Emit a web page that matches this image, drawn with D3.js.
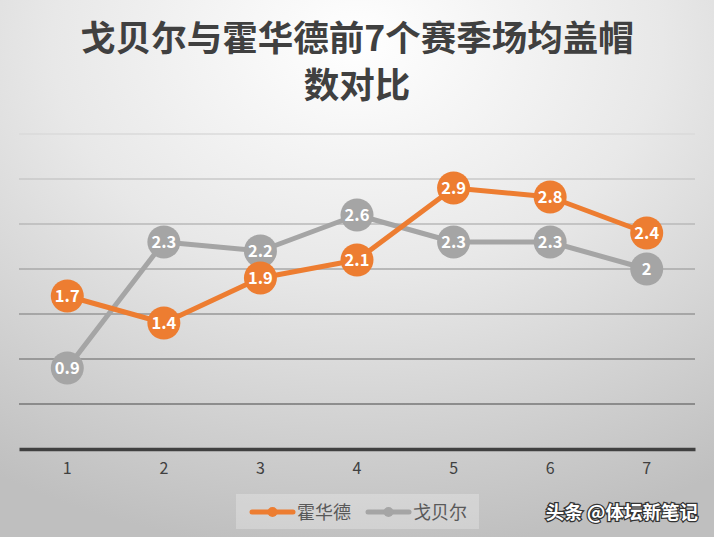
<!DOCTYPE html>
<html>
<head>
<meta charset="utf-8">
<script src="https://cdn.jsdelivr.net/npm/d3@7"></script>
<style>
  body { margin: 0; padding: 0; overflow: hidden; }
  svg { display: block; }
</style>
</head>
<body>
<script>
// data
var seasons = ["1", "2", "3", "4", "5", "6", "7"];
var howard = [1.7, 1.4, 1.9, 2.1, 2.9, 2.8, 2.4];
var gobert = [0.9, 2.3, 2.2, 2.6, 2.3, 2.3, 2.0];
var seriesNames = ["霍华德", "戈贝尔"];
var yTicks = [0, 0.5, 1, 1.5, 2, 2.5, 3, 3.5];
var titleLines = ["戈贝尔与霍华德前7个赛季场均盖帽", "数对比"];

var width = 714, height = 537;
var font = "'Noto Sans CJK SC', 'Noto Sans', sans-serif";
var colors = ["#ED7D31", "#A5A5A5"];

var svg = d3.select("body").append("svg")
    .attr("width", width).attr("height", height);

// background gradient
var defs = svg.append("defs");
var grad = defs.append("radialGradient").attr("id", "bg")
    .attr("cx", "50%").attr("cy", "8%").attr("r", "95%")
    .attr("fx", "50%").attr("fy", "8%");
grad.append("stop").attr("offset", "0%").attr("stop-color", "#ffffff");
grad.append("stop").attr("offset", "45%").attr("stop-color", "#e8e8e8");
grad.append("stop").attr("offset", "100%").attr("stop-color", "#bfbfbf");
svg.append("rect").attr("width", width).attr("height", height).attr("fill", "url(#bg)");

// title
svg.append("g").selectAll("text").data(titleLines).enter().append("text")
    .attr("x", width / 2)
    .attr("y", function(d, i) { return 51 + i * 47; })
    .attr("text-anchor", "middle")
    .attr("font-family", font).attr("font-weight", "bold")
    .attr("font-size", 35.5).attr("fill", "#404040")
    .text(function(d) { return d; });

// scales
var xScale = d3.scaleBand().domain(seasons).range([19, 695]);
var yScale = d3.scaleLinear().domain([0, 3.5]).range([449, 134]);
var gridColor = d3.scaleLinear().domain([0.5, 3.5]).range(["#767676", "#dadada"]);

// gridlines
svg.append("g").selectAll("line").data(yTicks.slice(1)).enter().append("line")
    .attr("x1", 19).attr("x2", 695)
    .attr("y1", function(d) { return yScale(d); })
    .attr("y2", function(d) { return yScale(d); })
    .attr("stroke", function(d) { return gridColor(d); })
    .attr("stroke-width", 1.5);

// x axis
var xAxis = svg.append("g").attr("transform", "translate(0," + yScale(0) + ")")
    .call(d3.axisBottom(xScale).tickSize(0).tickPadding(14));
xAxis.select(".domain").attr("stroke", "#404040").attr("stroke-width", 3.5);
xAxis.selectAll("text").attr("font-family", font).attr("font-size", 16).attr("fill", "#404040");

// lines and points
var cx = function(d, i) { return xScale(seasons[i]) + xScale.bandwidth() / 2; };
var line = d3.line()
    .x(function(d, i) { return cx(d, i); })
    .y(function(d) { return yScale(d); });

[gobert, howard].forEach(function(vals) {
    var c = vals === howard ? colors[0] : colors[1];
    var g = svg.append("g");
    g.append("path").attr("d", line(vals))
        .attr("fill", "none").attr("stroke", c).attr("stroke-width", 5)
        .attr("stroke-linejoin", "round");
    g.selectAll("circle").data(vals).enter().append("circle")
        .attr("cx", cx).attr("cy", function(d) { return yScale(d); })
        .attr("r", 16.5).attr("fill", c);
    g.selectAll("text").data(vals).enter().append("text")
        .attr("x", cx).attr("y", function(d) { return yScale(d) + 6; })
        .attr("text-anchor", "middle")
        .attr("font-family", font).attr("font-weight", "bold")
        .attr("font-size", 16.5).attr("fill", "#ffffff")
        .text(function(d) { return d; });
});

// legend
var legend = svg.append("g");
legend.append("rect").attr("x", 236).attr("y", 494).attr("width", 243).attr("height", 35)
    .attr("fill", "#ffffff").attr("fill-opacity", 0.25);
var legX = [252, 368];
seriesNames.forEach(function(name, i) {
    var lg = legend.append("g").attr("transform", "translate(" + legX[i] + ",512)");
    lg.append("line").attr("x1", 0).attr("x2", 41).attr("y1", 0).attr("y2", 0)
        .attr("stroke", colors[i]).attr("stroke-width", 5).attr("stroke-linecap", "round");
    lg.append("circle").attr("cx", 20.5).attr("cy", 0).attr("r", 5).attr("fill", colors[i]);
    lg.append("text").attr("x", 45).attr("y", 6.5)
        .attr("font-family", font).attr("font-size", 18).attr("fill", "#595959")
        .text(name);
});

// watermark
svg.append("text").attr("x", 698).attr("y", 519).attr("text-anchor", "end")
    .attr("font-family", font).attr("font-size", 18.5).attr("font-weight", "bold")
    .attr("fill", "#ffffff").attr("stroke", "#333333").attr("stroke-width", 2.5)
    .attr("paint-order", "stroke")
    .text("头条 @体坛新笔记");
</script>
</body>
</html>
